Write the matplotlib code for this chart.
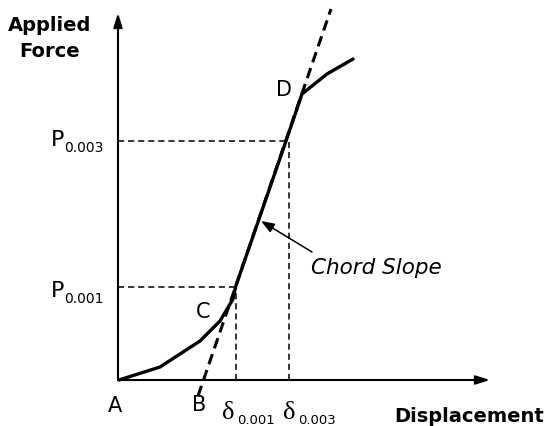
import matplotlib
matplotlib.use('Agg')
import matplotlib.pyplot as plt

# schematic load-displacement curve (arbitrary units, origin at A)
disp = [1, 42, 62, 82, 102, 115, 117.5, 168, 184, 209, 235]
force = [0, 13, 26, 39, 59, 81, 93, 239, 286, 306, 321]

# dashed chord-slope line through B
chord_x = [80, 213]
chord_y = [-16, 371]

# reference points
d001, p001 = 118, 93
d003, p003 = 171, 239

x_max, y_max = 372, 367

fig = plt.figure(figsize=(5.5, 4.27), dpi=100)
ax = fig.add_axes([0, 0, 1, 1])
ax.set_xlim(-118, 432)
ax.set_ylim(-46, 381)
ax.axis('off')

# axes arrows
head = '-|>,head_length=0.7,head_width=0.22'
ax.annotate('', xy=(0, y_max), xytext=(0, 0),
            arrowprops=dict(arrowstyle=head, lw=1.5, color='black',
                            mutation_scale=12, shrinkA=0, shrinkB=0))
ax.annotate('', xy=(x_max, 0), xytext=(0, 0),
            arrowprops=dict(arrowstyle=head, lw=1.5, color='black',
                            mutation_scale=12, shrinkA=0, shrinkB=0))

# guide lines
thin = dict(color='black', lw=1.1, dashes=(4, 2.6))
ax.plot([0, d001], [p001, p001], **thin)
ax.plot([d001, d001], [0, p001], **thin)
ax.plot([0, d003], [p003, p003], **thin)
ax.plot([d003, d003], [0, p003], **thin)

# chord line and curve
ax.plot(chord_x, chord_y, color='black', lw=2.2, dashes=(3.5, 2))
ax.plot(disp, force, color='black', lw=2.4, solid_joinstyle='round',
        solid_capstyle='round')

# axis titles
ax.text(-68, 350, 'Applied', fontsize=14, fontweight='bold', ha='center', va='baseline')
ax.text(-68, 324, 'Force', fontsize=14, fontweight='bold', ha='center', va='baseline')
ax.text(351, -41, 'Displacement', fontsize=14, fontweight='bold', ha='center', va='baseline')

# P labels
for yb, sub in [(235, '0.003'), (84, '0.001')]:
    ax.text(-67, yb, 'P', fontsize=16, ha='left', va='baseline')
    ax.text(-54, yb - 6, sub, fontsize=10, ha='left', va='baseline')

# delta labels
for xl, sub in [(104, '0.001'), (165, '0.003')]:
    ax.text(xl, -38, 'δ', fontsize=19, family='Liberation Serif', ha='left', va='baseline')
    ax.text(xl + 15, -43, sub, fontsize=9.5, ha='left', va='baseline')

# point letters
for lbl, xp, yp in [('A', -3, -25), ('B', 81, -24), ('C', 85, 69), ('D', 166, 291)]:
    ax.text(xp, yp, lbl, fontsize=15, ha='center', va='center')

# chord slope annotation
ax.annotate('', xy=(143, 159), xytext=(194, 128),
            arrowprops=dict(arrowstyle='-|>,head_length=0.8,head_width=0.3', lw=1.1,
                            color='black', mutation_scale=10, shrinkA=0, shrinkB=0))
ax.text(258, 113, 'Chord Slope', fontsize=15.5, style='italic', ha='center', va='center')

fig.savefig('out.png', dpi=100)
